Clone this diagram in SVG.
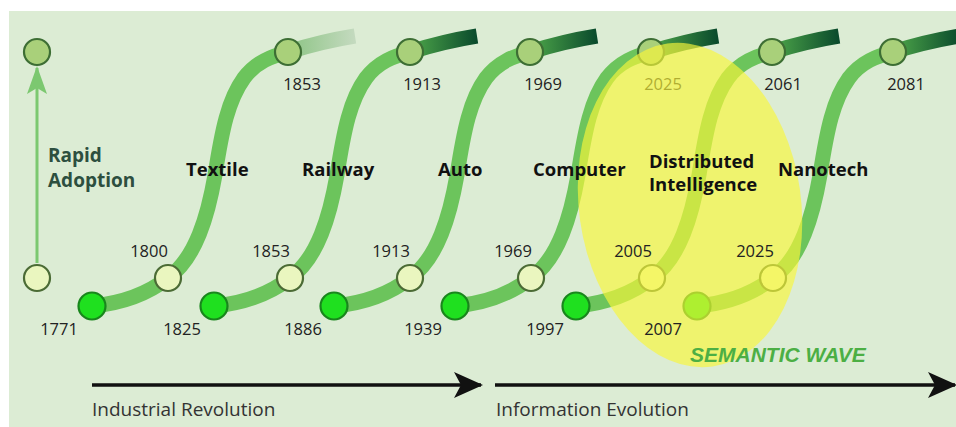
<svg xmlns="http://www.w3.org/2000/svg" width="956" height="427" viewBox="0 0 956 427">
<style>
.curve{fill:none;stroke:#6cc45c;stroke-width:15}
.tail{fill:none;stroke:url(#tailG);stroke-width:15}
.tailf{fill:none;stroke:url(#tailF);stroke-width:15}
.top{fill:#a9d07a;stroke:#3d6e34;stroke-width:2.2}
.mid{fill:#eaf6bf;stroke:#4b6b35;stroke-width:2.2}
.start{fill:#1fe01f;stroke:#19861c;stroke-width:2.2}
.yr{font-family:"Open Sans","Liberation Sans",sans-serif;font-size:16.5px;fill:#222;text-anchor:middle}
.lbl{font-family:"Open Sans","Liberation Sans",sans-serif;font-size:18.5px;font-weight:700;fill:#111}
.axis{font-family:"Open Sans","Liberation Sans",sans-serif;font-size:19px;fill:#333}
</style>
<defs>
<linearGradient id="tailG" x1="0" y1="0" x2="1" y2="0"><stop offset="0" stop-color="#4fa84a"/><stop offset="1" stop-color="#0a4a2c"/></linearGradient>
<linearGradient id="tailF" x1="0" y1="0" x2="1" y2="0"><stop offset="0" stop-color="#8cc484"/><stop offset="1" stop-color="#c4dabf"/></linearGradient>
<path id="s" d="M92,306 C125,303 150,292 168,278 C196,258 208,215 215,175 C222,130 228,100 244,78 C256,62 272,56 288,52"/>
<path id="t" d="M288,52 C310,45 330,40 355,36"/>
<marker id="ah" viewBox="0 0 29 26" refX="27" refY="13" markerWidth="29" markerHeight="26" markerUnits="userSpaceOnUse" orient="auto"><path d="M0,0 L29,13 L0,26 L7,13 z" fill="#111"/></marker>
<marker id="gh" viewBox="0 0 28 20" refX="26" refY="10" markerWidth="28" markerHeight="20" markerUnits="userSpaceOnUse" orient="auto"><path d="M0,0 L28,10 L0,20 L6,10 z" fill="#7cc870"/></marker>
</defs>
<rect x="9" y="11" width="947" height="416" fill="#dcecd4"/>

<g id="connectors">
<line x1="37" y1="263" x2="37" y2="68" stroke="#7cc870" stroke-width="3" marker-end="url(#gh)"/>
<line x1="92" y1="385" x2="481" y2="385" stroke="#111" stroke-width="3.5" marker-end="url(#ah)"/>
<line x1="495" y1="385" x2="955" y2="385" stroke="#111" stroke-width="3.5" marker-end="url(#ah)"/>
</g>

<g id="adoption-axis">
<circle id="axis-top" class="top" cx="37" cy="52" r="13"/>
<circle id="axis-bottom" class="mid" cx="37" cy="278" r="13"/>
</g>

<g id="wave-textile">
<use href="#t" class="tailf"/><use href="#s" class="curve"/>
<circle class="start" cx="92" cy="306" r="13.5"/><circle class="mid" cx="168" cy="278" r="13"/><circle class="top" cx="288" cy="52" r="13"/>
</g>
<g id="wave-railway" transform="translate(122,0)">
<use href="#t" class="tail"/><use href="#s" class="curve"/>
<circle class="start" cx="92" cy="306" r="13.5"/><circle class="mid" cx="168" cy="278" r="13"/><circle class="top" cx="288" cy="52" r="13"/>
</g>
<g id="wave-auto" transform="translate(242,0)">
<use href="#t" class="tail"/><use href="#s" class="curve"/>
<circle class="start" cx="92" cy="306" r="13.5"/><circle class="mid" cx="168" cy="278" r="13"/><circle class="top" cx="288" cy="52" r="13"/>
</g>
<g id="wave-computer" transform="translate(363,0)">
<use href="#t" class="tail"/><use href="#s" class="curve"/>
<circle class="start" cx="92" cy="306" r="13.5"/><circle class="mid" cx="168" cy="278" r="13"/><circle class="top" cx="288" cy="52" r="13"/>
</g>
<g id="wave-distributed" transform="translate(484,0)">
<use href="#t" class="tail"/><use href="#s" class="curve"/>
<circle class="start" cx="92" cy="306" r="13.5"/><circle class="mid" cx="168" cy="278" r="13"/><circle class="top" cx="288" cy="52" r="13"/>
</g>
<g id="wave-nanotech" transform="translate(605,0)">
<use href="#t" class="tail"/><use href="#s" class="curve"/>
<circle class="start" cx="92" cy="306" r="13.5"/><circle class="mid" cx="168" cy="278" r="13"/><circle class="top" cx="288" cy="52" r="13"/>
</g>

<g id="top-years">
<text class="yr" x="302" y="90">1853</text>
<text class="yr" x="422" y="90">1913</text>
<text class="yr" x="543" y="90">1969</text>
<text class="yr" x="663" y="90">2025</text>
<text class="yr" x="783" y="90">2061</text>
<text class="yr" x="906" y="90">2081</text>
</g>

<ellipse id="semantic-wave" cx="690" cy="205" rx="111" ry="163" transform="rotate(-8 690 205)" fill="#f9f63a" fill-opacity="0.66"/>

<g id="bottom-years">
<text class="yr" x="149" y="257">1800</text>
<text class="yr" x="271" y="257">1853</text>
<text class="yr" x="391" y="257">1913</text>
<text class="yr" x="513" y="257">1969</text>
<text class="yr" x="633" y="257">2005</text>
<text class="yr" x="755" y="257">2025</text>
<text class="yr" x="59" y="335">1771</text>
<text class="yr" x="182" y="335">1825</text>
<text class="yr" x="303" y="335">1886</text>
<text class="yr" x="423" y="335">1939</text>
<text class="yr" x="545" y="335">1997</text>
<text class="yr" x="663" y="335">2007</text>
</g>

<g id="labels">
<text class="lbl" x="48" y="162" style="fill:#2d4f3f;font-size:19px">Rapid</text>
<text class="lbl" x="48" y="187" style="fill:#2d4f3f;font-size:19px">Adoption</text>
<text class="lbl" x="186" y="176">Textile</text>
<text class="lbl" x="302" y="176">Railway</text>
<text class="lbl" x="438" y="176">Auto</text>
<text class="lbl" x="533" y="176">Computer</text>
<text class="lbl" x="649" y="168">Distributed</text>
<text class="lbl" x="649" y="191">Intelligence</text>
<text class="lbl" x="778" y="176">Nanotech</text>
<text x="690" y="362" font-family="'Liberation Sans',Arial,sans-serif" font-size="21" font-weight="700" font-style="italic" fill="#4caf44">SEMANTIC WAVE</text>
<text class="axis" x="92" y="416">Industrial Revolution</text>
<text class="axis" x="496" y="416">Information Evolution</text>
</g>
</svg>
